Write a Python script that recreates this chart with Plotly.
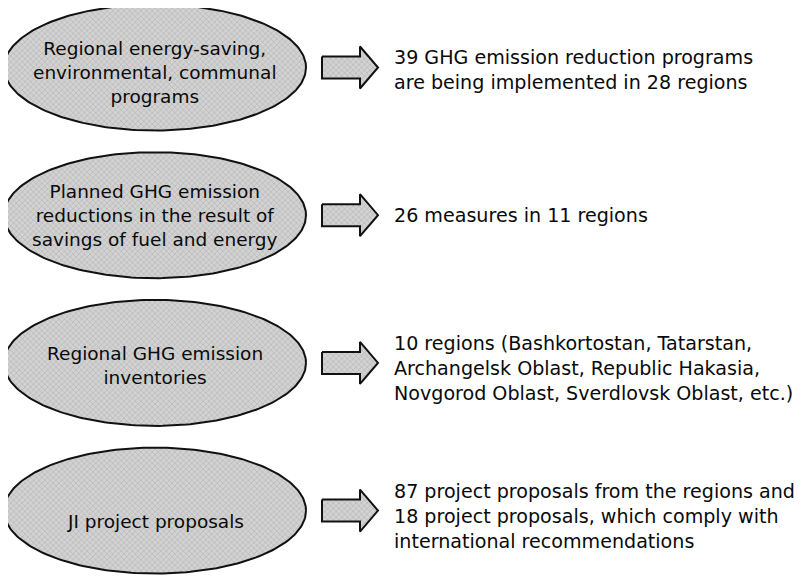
import numpy as np
import plotly.graph_objects as go

# ---- data ----
left_labels = [
    "Regional energy-saving,<br>environmental, communal<br>programs",
    "Planned GHG emission<br>reductions in the result of<br>savings of fuel and energy",
    "Regional GHG emission<br>inventories",
    "JI project proposals",
]
right_labels = [
    "39 GHG emission reduction programs<br>are being implemented in 28 regions",
    "26 measures in 11 regions",
    "10 regions (Bashkortostan, Tatarstan,<br>Archangelsk Oblast, Republic Hakasia,<br>Novgorod Oblast, Sverdlovsk Oblast, etc.)",
    "87 project proposals from the regions and<br>18 project proposals, which comply with<br>international recommendations",
]

# ---- layout geometry (page pixels; page body has an 8px margin) ----
W, H = 807, 577
OFF = 8
cx, rx, ry = 155, 151, 63
cy0, dy = 67.5, 147.7
left_text_dy = [5, 0, 3, 11]
right_text_dy = [2, 0, 6, 6]
FONT = "DejaVu Sans"

fig = go.Figure()
theta = np.linspace(0, 2 * np.pi, 241)
pattern = dict(shape="x", size=4, solidity=0.25, fgcolor="#888888", bgcolor="#d2d2d2")

for i, (lt, rt) in enumerate(zip(left_labels, right_labels)):
    cy = cy0 + i * dy
    fig.add_trace(go.Scatter(
        x=cx + rx * np.cos(theta), y=cy + ry * np.sin(theta),
        mode="lines", fill="toself", fillpattern=pattern,
        line=dict(color="#111111", width=2), hoverinfo="skip", showlegend=False))
    ax = [322, 360, 360, 378, 360, 360, 322, 322]
    ay = [cy - 11, cy - 11, cy - 21, cy, cy + 21, cy + 11, cy + 11, cy - 11]
    fig.add_trace(go.Scatter(
        x=ax, y=ay, mode="lines", fill="toself", fillpattern=pattern,
        line=dict(color="#111111", width=2), hoverinfo="skip", showlegend=False))
    fig.add_annotation(x=cx, y=cy + left_text_dy[i], text=lt, showarrow=False,
                       xanchor="center", yanchor="middle", align="center",
                       font=dict(family=FONT, size=18.5, color="#0a0a0a"))
    fig.add_annotation(x=392, y=cy + right_text_dy[i], text=rt, showarrow=False,
                       xanchor="left", yanchor="middle", align="left",
                       font=dict(family=FONT, size=19.1, color="#0a0a0a"))

fig.update_layout(
    width=W - OFF, height=H - OFF, margin=dict(l=0, r=0, t=0, b=0),
    paper_bgcolor="white", plot_bgcolor="white",
    xaxis=dict(range=[OFF, W], visible=False, fixedrange=True),
    yaxis=dict(range=[H, OFF], visible=False, fixedrange=True),
)
fig.write_html("out.html")
